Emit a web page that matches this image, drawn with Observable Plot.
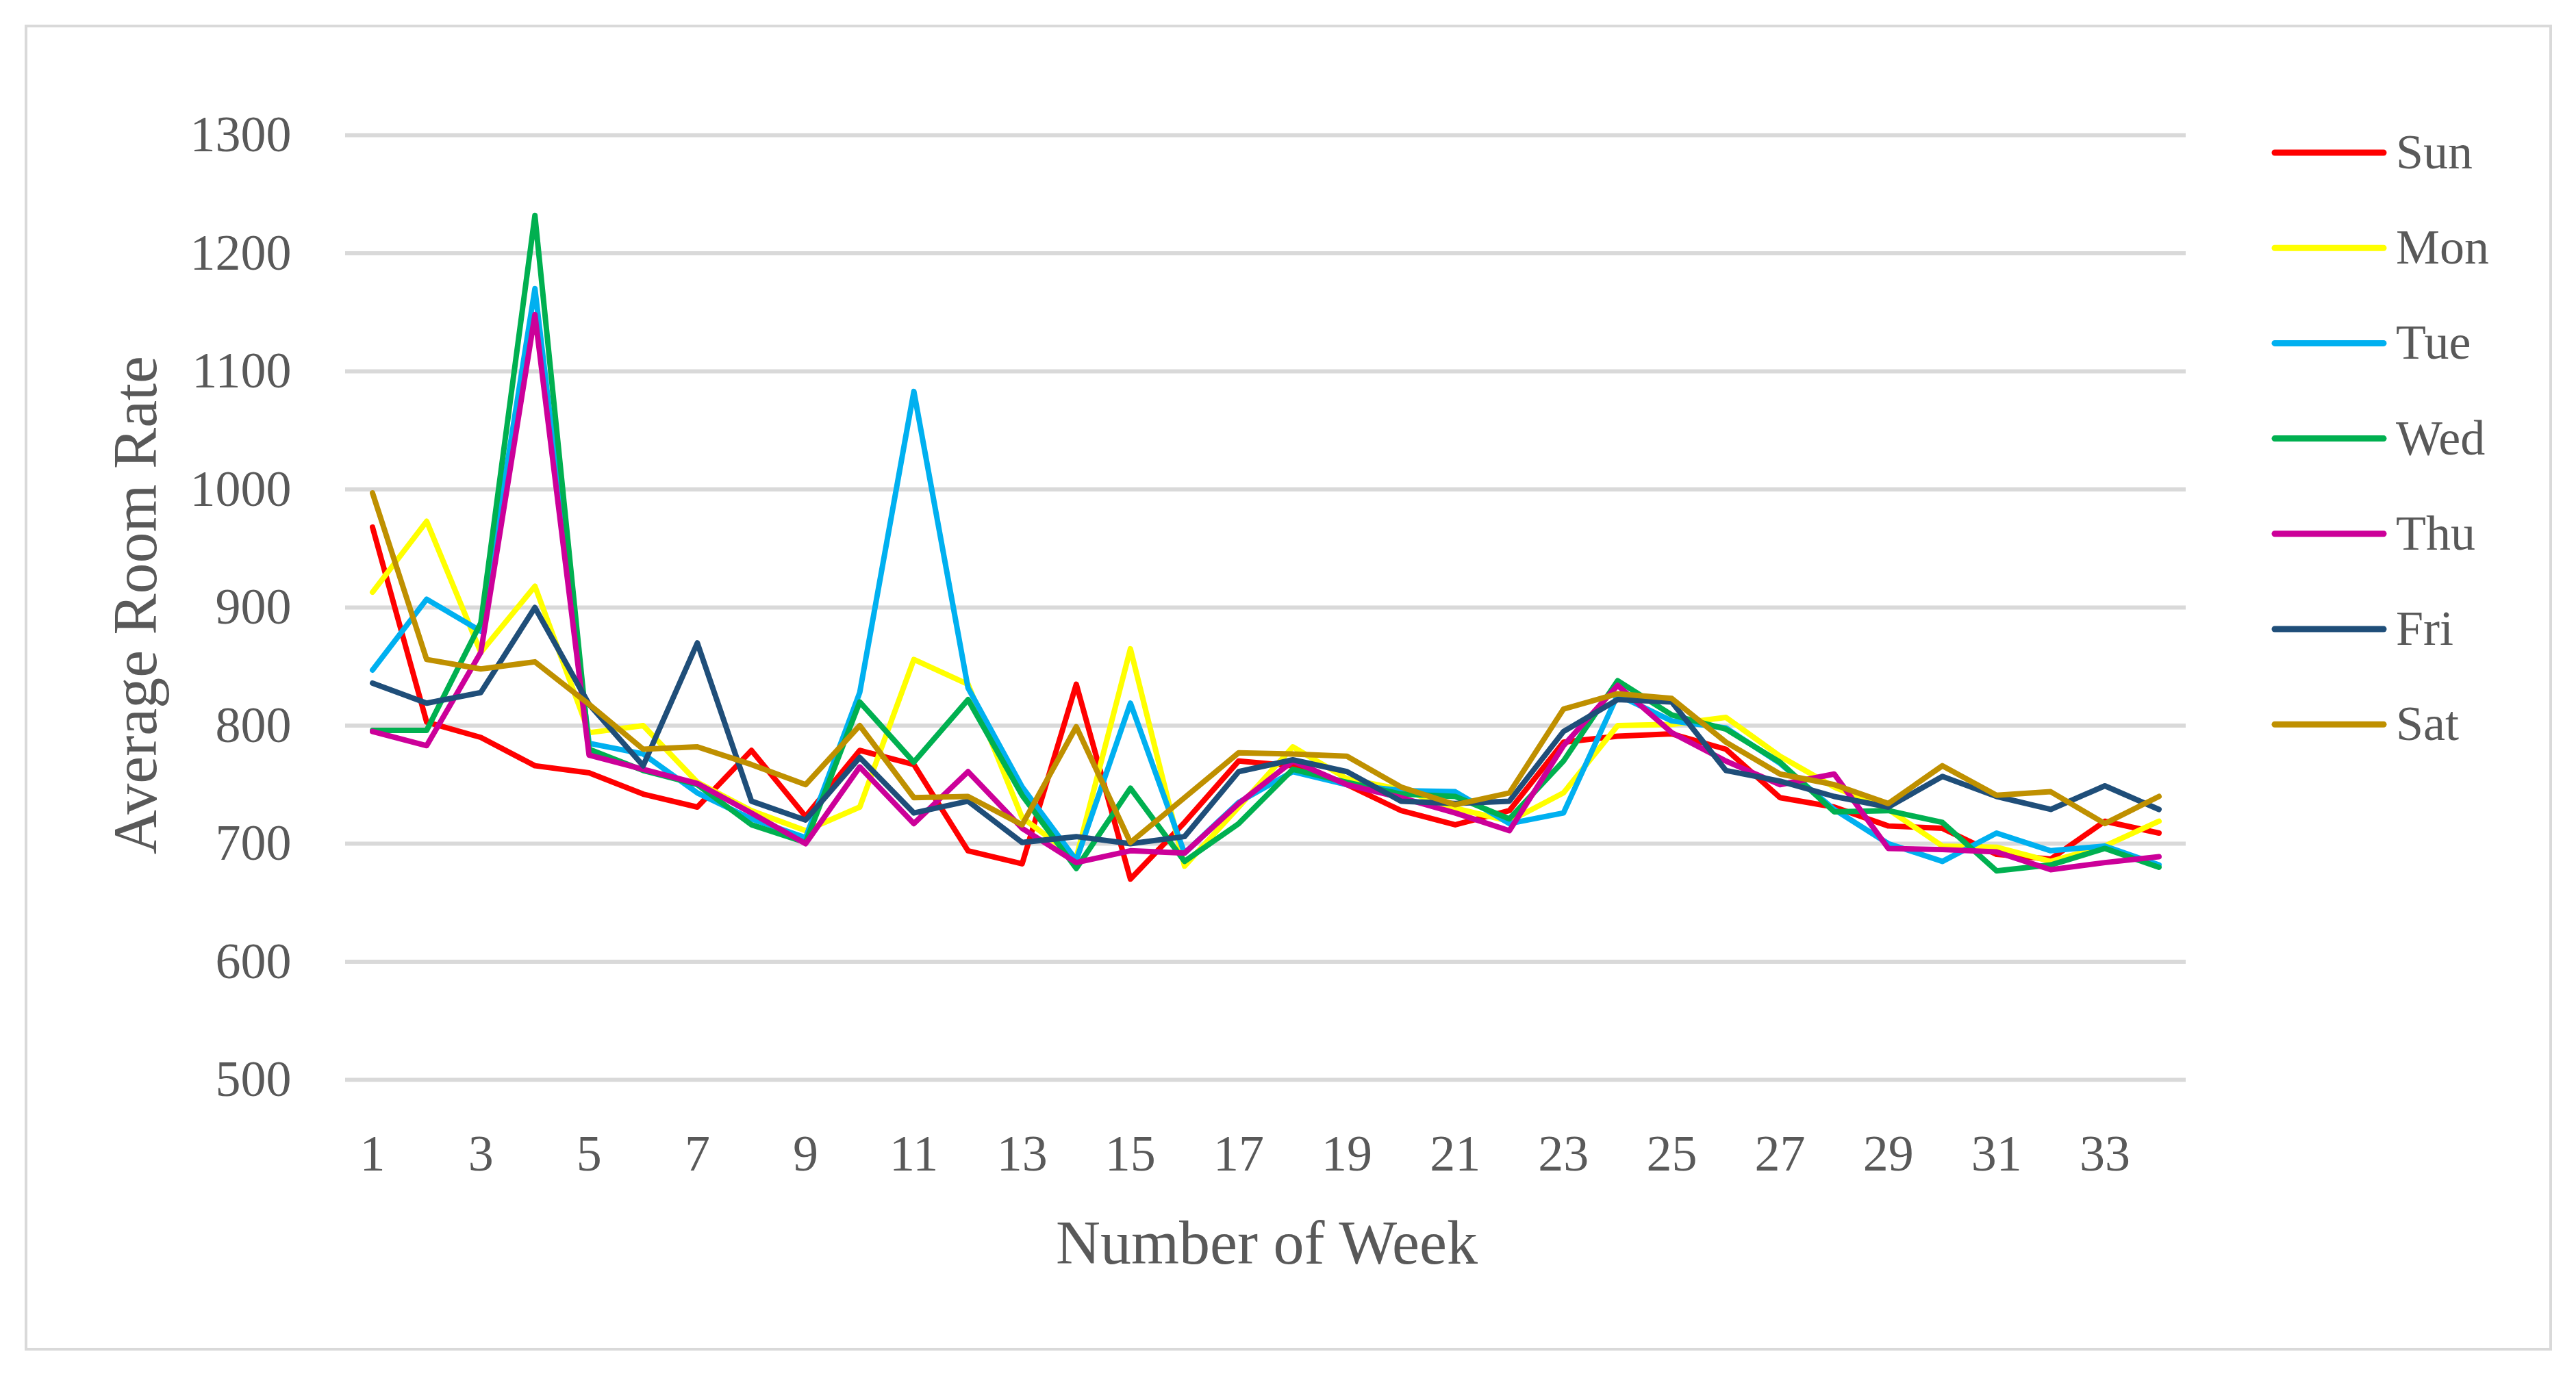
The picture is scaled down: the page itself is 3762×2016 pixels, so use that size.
<!DOCTYPE html>
<html>
<head>
<meta charset="utf-8">
<script src="https://cdn.jsdelivr.net/npm/d3@7"></script>
<script src="https://cdn.jsdelivr.net/npm/@observablehq/plot@0.6"></script>
<style>
  html, body { margin: 0; padding: 0; background: #ffffff; }
  #wrap { position: relative; width: 3762px; height: 2016px; overflow: hidden; background: #ffffff; }
  #wrap > svg { position: absolute; left: 0; top: 0; }
  #border { position: absolute; left: 36px; top: 36px; width: 3683px; height: 1929px; border: 4px solid #d9d9d9; }
</style>
</head>
<body>
<div id="wrap"><div id="border"></div></div>
<script>
const weeks = [1,2,3,4,5,6,7,8,9,10,11,12,13,14,15,16,17,18,19,20,21,22,23,24,25,26,27,28,29,30,31,32,33,34];
const days = ["Sun","Mon","Tue","Wed","Thu","Fri","Sat"];
const dayColors = ["#ff0000","#ffff00","#00b0f0","#00b050","#cc0099","#1f4e79","#bf9000"];

const sun = [968,803,790,766,760,742,731,779,723,779,767,694,683,835,670,718,770,766,750,728,716,728,786,791,793,780,739,731,715,713,691,687,719,709];
const mon = [913,973,862,918,794,800,752,728,711,731,856,835,722,688,865,681,731,782,755,746,730,719,743,800,801,807,774,748,729,698,697,685,698,719];
const tue = [847,907,880,1170,785,776,743,721,705,828,1083,832,748,686,819,692,735,761,750,745,744,717,726,826,804,798,768,729,700,685,709,694,698,682];
const wed = [796,796,887,1232,780,762,750,716,701,820,769,822,741,679,747,685,717,763,752,742,740,721,770,838,809,797,769,727,728,718,677,682,696,680];
const thu = [795,783,862,1148,775,763,751,726,700,765,717,761,713,684,694,692,734,770,750,739,726,711,783,834,794,770,750,759,696,695,693,678,684,689];
const fri = [836,819,828,900,818,766,870,736,720,773,726,736,701,706,700,706,761,771,761,736,734,736,795,822,820,762,753,740,731,757,740,729,749,729];
const sat = [997,856,848,854,818,780,782,767,750,800,739,740,716,799,701,739,777,776,774,748,733,743,814,827,823,786,759,750,734,766,741,744,717,740];

const yTicks = [500,600,700,800,900,1000,1100,1200,1300];
const xTicks = [1,3,5,7,9,11,13,15,17,19,21,23,25,27,29,31,33];

const xTitle = "Number of Week";
const yTitle = "Average Room Rate";

const series = [sun, mon, tue, wed, thu, fri, sat];
const rows = [];
series.forEach((vals, i) => {
  vals.forEach((v, j) => rows.push({day: days[i], week: weeks[j], value: v}));
});

const W = 3762, H = 2016;
const mL = 504, mR = 570, mT = 197, mB = 439;

const chart = Plot.plot({
  width: W,
  height: H,
  marginLeft: mL,
  marginRight: mR,
  marginTop: mT,
  marginBottom: mB,
  style: {fontFamily: "'Liberation Serif', serif", fontSize: "74px", color: "#595959", background: "transparent", overflow: "visible"},
  x: {domain: [0.5, 34.5], label: null},
  y: {domain: [500, 1300], label: null},
  color: {domain: days, range: dayColors},
  marks: [
    Plot.gridY(yTicks, {stroke: "#d9d9d9", strokeOpacity: 1, strokeWidth: 6}),
    Plot.axisY({ticks: yTicks, tickSize: 0, tickPadding: 79, label: null, fontSize: 74, tickFormat: d => String(d)}),
    Plot.axisX({ticks: xTicks, tickSize: 0, tickPadding: 80, label: null, fontSize: 74, tickFormat: d => String(d)}),
    Plot.line(rows, {x: "week", y: "value", z: "day", stroke: "day", strokeWidth: 8, strokeLinejoin: "round", strokeLinecap: "round"})
  ]
});

const wrap = document.getElementById("wrap");
wrap.appendChild(chart);

// Titles and legend overlay
const ns = "http://www.w3.org/2000/svg";
const over = document.createElementNS(ns, "svg");
over.setAttribute("width", W);
over.setAttribute("height", H);
over.style.fontFamily = "'Liberation Serif', serif";
over.style.pointerEvents = "none";

function addText(txt, attrs) {
  const t = document.createElementNS(ns, "text");
  for (const k in attrs) t.setAttribute(k, attrs[k]);
  t.textContent = txt;
  over.appendChild(t);
  return t;
}
addText(xTitle, {x: 1850, y: 1846, "text-anchor": "middle", "font-size": 90, fill: "#595959"});
addText(yTitle, {transform: "translate(228,884) rotate(-90)", "text-anchor": "middle", "font-size": 90, fill: "#595959"});

days.forEach((d, i) => {
  const cy = 223 + i * 139.2;
  const l = document.createElementNS(ns, "line");
  l.setAttribute("x1", 3322); l.setAttribute("x2", 3481);
  l.setAttribute("y1", cy); l.setAttribute("y2", cy);
  l.setAttribute("stroke", dayColors[i]);
  l.setAttribute("stroke-width", 9);
  l.setAttribute("stroke-linecap", "round");
  over.appendChild(l);
  addText(d, {x: 3499, y: cy + 23, "font-size": 72, fill: "#595959"});
});
wrap.appendChild(over);
</script>
</body>
</html>
